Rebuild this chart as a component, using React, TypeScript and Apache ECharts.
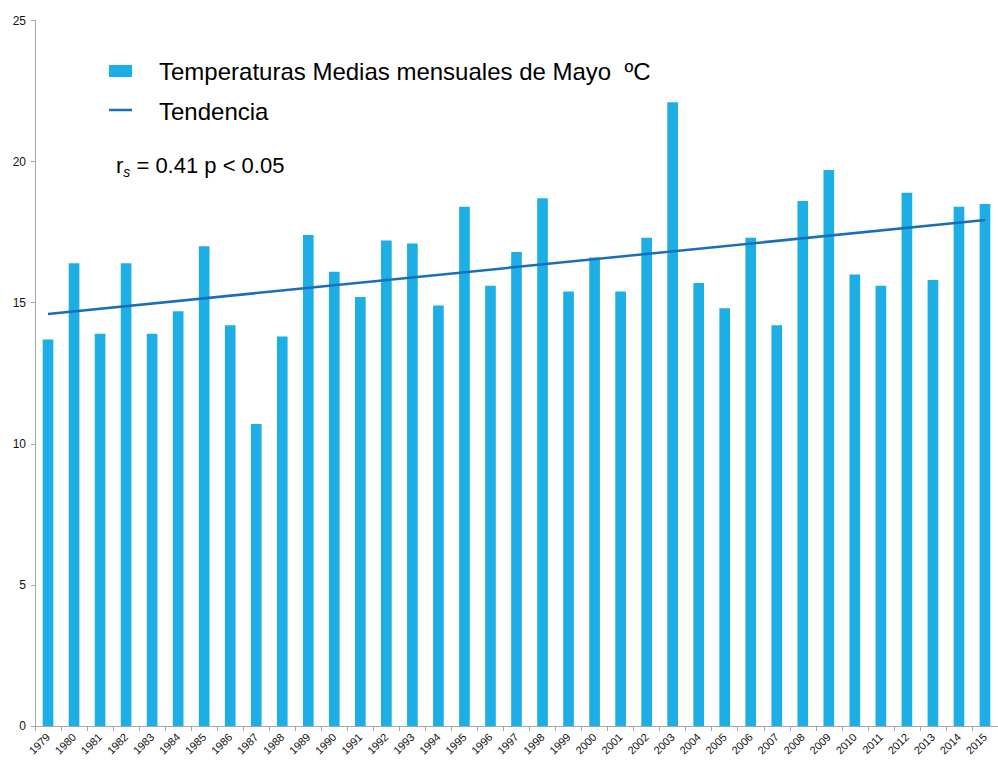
import React, { useEffect, useRef } from "react";
import * as echarts from "echarts";

const years = [
  "1979", "1980", "1981", "1982", "1983", "1984", "1985", "1986", "1987", "1988",
  "1989", "1990", "1991", "1992", "1993", "1994", "1995", "1996", "1997", "1998",
  "1999", "2000", "2001", "2002", "2003", "2004", "2005", "2006", "2007", "2008",
  "2009", "2010", "2011", "2012", "2013", "2014", "2015",
];
const temps = [
  13.7, 16.4, 13.9, 16.4, 13.9, 14.7, 17.0, 14.2, 10.7, 13.8,
  17.4, 16.1, 15.2, 17.2, 17.1, 14.9, 18.4, 15.6, 16.8, 18.7,
  15.4, 16.6, 15.4, 17.3, 22.1, 15.7, 14.8, 17.3, 14.2, 18.6,
  19.7, 16.0, 15.6, 18.9, 15.8, 18.4, 18.5,
];
const trendEnds = [14.6, 17.93];
const yTicks = { min: 0, max: 25, interval: 5 };
const barName = "Temperaturas Medias mensuales de Mayo  ºC";
const lineName = "Tendencia";

const FONT = '"Liberation Sans", Arial, sans-serif';
const LINE_ICON =
  "path://M0,0 L23,0 L23,0.001 Z M0,3.3 L23,3.3 L23,5.8 L0,5.8 Z M0,12 L23,12 L23,12.001 Z";

export default function App() {
  const ref = useRef<HTMLDivElement>(null);
  useEffect(() => {
    if (!ref.current) return;
    const chart = echarts.init(ref.current, undefined, { renderer: "svg" });
    const last = years.length - 1;
    const trendData = years.map((_, i) =>
      i === 0 ? trendEnds[0] : i === last ? trendEnds[1] : null
    );
    chart.setOption({
      animation: false,
      backgroundColor: "#ffffff",
      textStyle: { fontFamily: FONT },
      grid: { left: 35, right: 0, top: 20.5, bottom: 34, containLabel: false },
      legend: {
        orient: "vertical",
        left: 104,
        top: 54,
        itemWidth: 23,
        itemHeight: 12,
        itemGap: 16.5,
        data: [
          { name: barName, icon: "rect" },
          { name: lineName, icon: LINE_ICON },
        ],
        textStyle: {
          fontSize: 24,
          color: "#000",
          fontFamily: FONT,
          padding: [0, 0, 0, 22],
          lineHeight: 24,
        },
      },
      graphic: [
        {
          type: "text",
          left: 116,
          top: 154,
          style: {
            text: "{a|r}{s|s}{a| = 0.41 p < 0.05}",
            rich: {
              a: { fontSize: 22, fill: "#000", fontFamily: FONT },
              s: {
                fontSize: 14,
                fontStyle: "italic",
                fill: "#000",
                fontFamily: FONT,
                padding: [14, 0, 0, 0],
              },
            },
          },
        },
      ],
      xAxis: {
        type: "category",
        data: years,
        boundaryGap: true,
        axisLine: { lineStyle: { color: "#a6a6a6", width: 1 } },
        axisTick: { show: true, length: 5, lineStyle: { color: "#a6a6a6" } },
        axisLabel: {
          rotate: 45,
          fontSize: 11,
          color: "#111",
          margin: 9,
          interval: 0,
          fontFamily: FONT,
        },
        splitLine: { show: false },
      },
      yAxis: {
        type: "value",
        min: yTicks.min,
        max: yTicks.max,
        interval: yTicks.interval,
        axisLine: { show: true, lineStyle: { color: "#a6a6a6", width: 1 } },
        axisTick: { show: true, length: 4, lineStyle: { color: "#a6a6a6" } },
        axisLabel: { fontSize: 12, color: "#111", margin: 9, fontFamily: FONT },
        splitLine: { show: false },
      },
      series: [
        {
          name: barName,
          type: "bar",
          data: temps,
          barWidth: "41%",
          itemStyle: { color: "#1CAEE4" },
        },
        {
          name: lineName,
          type: "line",
          data: trendData,
          connectNulls: true,
          symbol: "none",
          lineStyle: { color: "#1A6EB8", width: 2.5 },
          itemStyle: { color: "#1A6EB8" },
        },
      ],
    });
    return () => chart.dispose();
  }, []);
  return (
    <div
      ref={ref}
      style={{ position: "absolute", left: 0, top: 0, width: 998, height: 760 }}
    />
  );
}
